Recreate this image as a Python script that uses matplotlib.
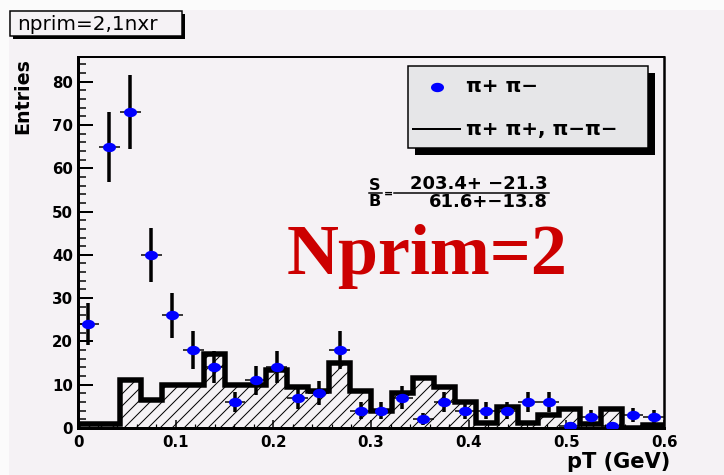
import numpy as np
import matplotlib.pyplot as plt
from matplotlib.patches import Rectangle
from matplotlib.lines import Line2D
from matplotlib.ticker import MultipleLocator, FuncFormatter

# pT binning in GeV
pt_lo, pt_hi, n_bins = 0.0, 0.6, 28

# pi+ pi- pairs, entries per bin and their errors
unlike = [24, 65, 73, 40, 26, 18, 14, 6, 11, 14, 7, 8, 18, 4,
          4, 7, 2, 6, 4, 4, 4, 6, 6, 0.5, 2.5, 0.5, 3, 2.5]
unlike_err = [4.9, 8.1, 8.6, 6.3, 5.1, 4.3, 3.7, 2.4, 3.3, 3.7, 2.6, 2.8, 4.3, 2.0,
              2.0, 2.6, 1.4, 2.4, 2.0, 2.0, 2.0, 2.4, 2.4, 0.7, 1.6, 0.7, 1.7, 1.6]

# like-sign pairs (pi+ pi+, pi- pi-), hatched histogram
like = [1, 1, 11, 6.5, 10, 10, 17, 10, 10, 13.5, 9.5, 8.5, 15, 8.5,
        4, 8, 11.5, 9.5, 6, 1.2, 4.8, 1.2, 3, 4.4, 1, 4.4, 0, 0.7]

title = "nprim=2,1nxr"
big_label = "Nprim=2"
sb_signal = "203.4+ \u221221.3"
sb_background = "61.6+\u221213.8"
leg_unlike = "\u03c0+ \u03c0\u2212"
leg_like = "\u03c0+ \u03c0+, \u03c0\u2212\u03c0\u2212"

PAD = "#f5f2f5"
W, H = 724, 475

plt.rcParams["font.family"] = "DejaVu Sans"
plt.rcParams["font.weight"] = "bold"
plt.rcParams["hatch.color"] = "black"
plt.rcParams["hatch.linewidth"] = 1.0


def fx(px):
    return px / W


def fy(py):
    return 1 - py / H


edges = np.linspace(pt_lo, pt_hi, n_bins + 1)
centers = 0.5 * (edges[1:] + edges[:-1])
half_w = 0.5 * (edges[1] - edges[0])

# slightly squashed dot, like the root markers
t = np.linspace(0, 2 * np.pi, 48)
dot = np.column_stack([np.cos(t), 0.72 * np.sin(t)])

fig = plt.figure(figsize=(W / 72, H / 72), dpi=72, facecolor="#fbfbfb")
fig.add_artist(Rectangle((fx(9), 0), 1, fy(10), transform=fig.transFigure,
                         facecolor=PAD, edgecolor="none", zorder=-10))

ax = fig.add_axes([fx(78), fy(428), fx(664) - fx(78), fy(57) - fy(428)])
ax.set_facecolor(PAD)
ax.set_xlim(pt_lo, pt_hi)
ax.set_ylim(0, 85.7)

# background histogram: hatch + thick outline
ax.stairs(like, edges, baseline=0, fill=True, facecolor="none",
          edgecolor="black", hatch="//", linewidth=0, zorder=2)
outline = ax.stairs(like, edges, baseline=0, fill=False, color="black",
                    linewidth=5.5, zorder=3)
outline.set_joinstyle("miter")

# signal points
ax.errorbar(centers, unlike, yerr=unlike_err, fmt="none", ecolor="black",
            elinewidth=3.5, capsize=0, zorder=4)
ax.errorbar(centers, unlike, xerr=half_w, fmt="none", ecolor="black",
            elinewidth=1.5, capsize=0, zorder=4)
ax.plot(centers, unlike, linestyle="none", marker=dot, markersize=13,
        color="blue", markeredgewidth=0, zorder=5)

# axes and ticks
for side, lw in [("left", 3), ("bottom", 3), ("top", 2), ("right", 2.5)]:
    ax.spines[side].set_linewidth(lw)
ax.xaxis.set_major_locator(MultipleLocator(0.1))
ax.xaxis.set_minor_locator(MultipleLocator(0.02))
ax.yaxis.set_major_locator(MultipleLocator(10))
ax.yaxis.set_minor_locator(MultipleLocator(2))
ax.xaxis.set_major_formatter(FuncFormatter(lambda v, _: "0" if abs(v) < 1e-9 else f"{v:.1f}"))
ax.yaxis.set_major_formatter(FuncFormatter(lambda v, _: f"{v:.0f}"))
ax.tick_params(axis="y", which="major", direction="in", length=15, width=2,
               labelsize=15, pad=5, right=False)
ax.tick_params(axis="y", which="minor", direction="in", length=8, width=1.5, right=False)
ax.tick_params(axis="x", which="major", direction="in", length=8, width=1.5,
               labelsize=15, pad=7, top=False)
ax.tick_params(axis="x", which="minor", direction="in", length=4, width=1.2, top=False)

fig.text(fx(23), fy(58), "Entries", rotation=90, ha="center", va="top", fontsize=19)
fig.text(fx(670), fy(462), "pT (GeV)", ha="right", va="center", fontsize=21)

# title box with shadow
fig.add_artist(Rectangle((fx(13), fy(39)), fx(172), fy(11) - fy(36),
                         transform=fig.transFigure, facecolor="black", edgecolor="none"))
fig.add_artist(Rectangle((fx(10), fy(36)), fx(172), fy(11) - fy(36),
                         transform=fig.transFigure, facecolor=PAD, edgecolor="black",
                         linewidth=1.5))
fig.text(fx(17), fy(24), title, ha="left", va="center", fontsize=20, fontweight="normal")

# legend box with shadow
fig.add_artist(Rectangle((fx(415), fy(155)), fx(240), fy(66) - fy(148),
                         transform=fig.transFigure, facecolor="black", edgecolor="none"))
fig.add_artist(Rectangle((fx(408), fy(148)), fx(240), fy(66) - fy(148),
                         transform=fig.transFigure, facecolor="#e6e6e8", edgecolor="black",
                         linewidth=1.5))
fig.add_artist(Line2D([fx(437)], [fy(87)], transform=fig.transFigure, linestyle="none",
                      marker=dot, markersize=13, color="blue", markeredgewidth=0))
fig.text(fx(466), fy(87), leg_unlike, ha="left", va="center", fontsize=20)
fig.add_artist(Line2D([fx(413), fx(460)], [fy(129), fy(129)], transform=fig.transFigure,
                      color="black", linewidth=2))
fig.text(fx(466), fy(129), leg_like, ha="left", va="center", fontsize=20)

# S/B annotation
fig.text(fx(375), fy(185), "S", ha="center", va="center", fontsize=16)
fig.text(fx(375), fy(202), "B", ha="center", va="center", fontsize=16)
fig.add_artist(Line2D([fx(369), fx(382)], [fy(193), fy(193)], transform=fig.transFigure,
                      color="black", linewidth=1.5))
fig.text(fx(388), fy(194), "=", ha="center", va="center", fontsize=11)
fig.add_artist(Line2D([fx(394), fx(549)], [fy(193), fy(193)], transform=fig.transFigure,
                      color="black", linewidth=1.5))
fig.text(fx(548), fy(184), sb_signal, ha="right", va="center", fontsize=18)
fig.text(fx(548), fy(202), sb_background, ha="right", va="center", fontsize=18)

fig.text(fx(287), fy(274), big_label, ha="left", va="baseline", fontsize=72,
         family="Liberation Serif", fontweight="bold", color="#cc0000")

fig.savefig("out.png", dpi=72, facecolor=fig.get_facecolor())
